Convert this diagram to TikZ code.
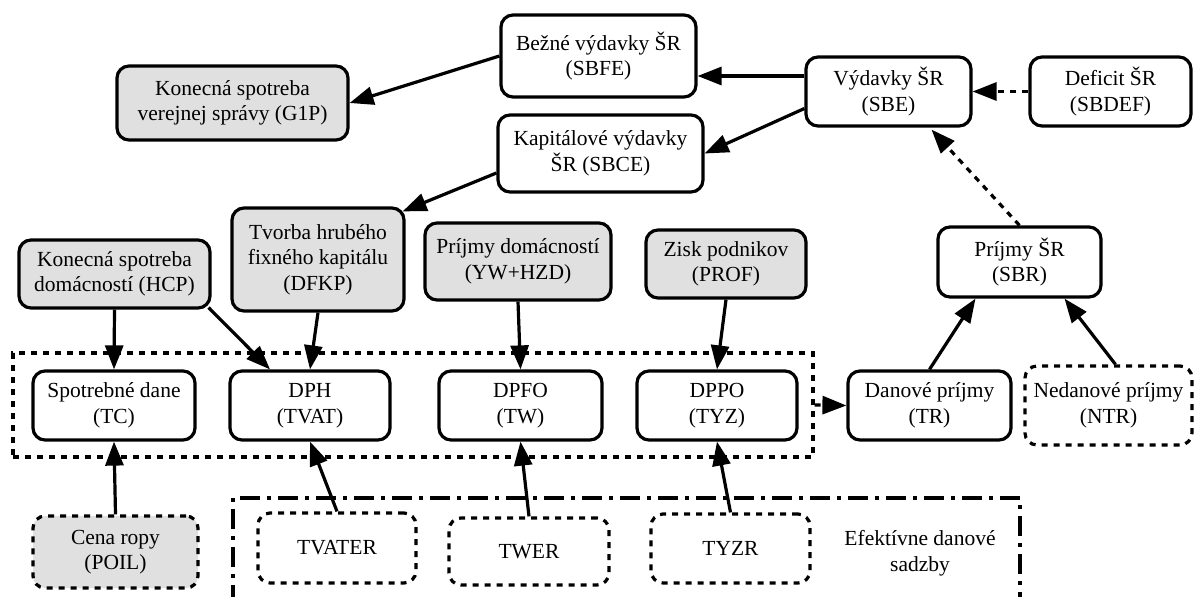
\documentclass[tikz,border=0pt]{standalone}
\usepackage{fontspec}
\setmainfont{Liberation Serif}
\usetikzlibrary{arrows.meta}
\definecolor{boxgray}{RGB}{224,224,224}
\begin{document}
\begin{tikzpicture}[x=1pt,y=-1pt,
  every node/.style={font=\fontsize{21.5}{25.5}\selectfont},
  box/.style={draw, line width=3.2pt, rounded corners=12pt, align=center, inner sep=0pt},
  sz/.style 2 args={minimum width=#1pt, minimum height=#2pt},
  shaded/.style={fill=boxgray},
  dotline/.style={dash pattern=on 6pt off 6pt},
  flow/.style={line width=3.2pt, -{Triangle[length=24pt,width=18pt]}},
]
\useasboundingbox (0,0) rectangle (1197,597);

% dotted group of the tax blocks
\node[draw, dotline, line width=3.2pt, sz={800}{104}] (taxes) at (413,405) {};

% state budget expenditures
\node[box, shaded, sz={231}{74}] (g1p) at (232.5,103) {Konecná spotreba\\verejnej správy (G1P)};
\node[box, sz={195}{82}] (sbfe) at (598.5,56) {Bežné výdavky ŠR\\(SBFE)};
\node[box, sz={205}{77}] (sbce) at (600.5,153.5) {Kapitálové výdavky\\ŠR (SBCE)};
\node[box, sz={165}{69}] (sbe) at (888.5,91.5) {Výdavky ŠR\\(SBE)};
\node[box, sz={161}{69}] (sbdef) at (1110.5,91.5) {Deficit ŠR\\(SBDEF)};

% macroeconomic drivers
\node[box, shaded, sz={191}{68}] (hcp) at (114.5,274) {Konecná spotreba\\domácností (HCP)};
\node[box, shaded, sz={172}{103}] (dfkp) at (318,259.5) {Tvorba hrubého\\fixného kapitálu\\(DFKP)};
\node[box, shaded, sz={186}{77}] (yw) at (518,261.5) {Príjmy domácností\\(YW+HZD)};
\node[box, shaded, sz={160}{68}] (prof) at (726,264) {Zisk podnikov\\(PROF)};
\node[box, sz={163}{70}] (sbr) at (1019.5,262) {Príjmy ŠR\\(SBR)};

% tax revenues
\node[box, sz={162}{69}] (tc) at (114,405.5) {Spotrebné dane\\(TC)};
\node[box, sz={160}{69}] (tvat) at (310,405.5) {DPH\\(TVAT)};
\node[box, sz={163}{69}] (tw) at (520.5,405.5) {DPFO\\(TW)};
\node[box, sz={160}{69}] (tyz) at (717,405.5) {DPPO\\(TYZ)};
\node[box, sz={163}{69}] (tr) at (929.5,405.5) {Danové príjmy\\(TR)};
\node[box, dotline, sz={167}{79}] (ntr) at (1108.5,405.5) {Nedanové príjmy\\(NTR)};

% exogenous inputs
\node[box, shaded, dotline, sz={165}{72}] (poil) at (115.5,552) {Cena ropy\\(POIL)};
\node[box, dotline, sz={158}{70}] (tvater) at (337,548) {TVATER};
\node[box, dotline, sz={160}{67}] (twer) at (529,551.5) {TWER};
\node[box, dotline, sz={159}{69}] (tyzr) at (730.5,548.5) {TYZR};
\node[align=center] (rates) at (920,553) {Efektívne danové\\sadzby};

% open dash-dot frame of the effective tax rates
\draw[line width=3.2pt, dash pattern=on 20pt off 7pt on 4pt off 7pt]
  (233,605) -- (233,498) -- (1020,498) -- (1020,605);

% connectors
\draw[flow] (sbfe.west) -- (g1p.east);
\draw[flow] ([yshift=15.5pt]sbe.west) -- ([yshift=-20pt]sbfe.east);
\draw[flow] ([yshift=-17pt]sbe.west) -- (sbce.east);
\draw[flow] ([yshift=-19.5pt]sbce.west) -- ([xshift=-3pt,yshift=-5pt]dfkp.north east);
\draw[flow, dotline] (sbdef.west) -- (sbe.east);
\draw[flow, dotline] (sbr.north) -- ([xshift=43pt,yshift=-2pt]sbe.south);

\draw[flow] (hcp.south) -- (tc.north);
\draw[flow] ([xshift=-3pt,yshift=2pt]hcp.south east) -- ([xshift=-40pt]tvat.north);
\draw[flow] (dfkp.south) -- (tvat.north);
\draw[flow] (yw.south) -- (tw.north);
\draw[flow] (prof.south) -- (tyz.north);

\draw[flow] (poil.north) -- (tc.south);
\draw[flow] (tvater.north) -- (tvat.south);
\draw[flow] (twer.north) -- (tw.south);
\draw[flow] (tyzr.north) -- (tyz.south);

\draw[flow, dotline] (taxes.east) -- (tr.west);
\draw[flow] (tr.north) -- ([xshift=-44pt]sbr.south);
\draw[flow] ([xshift=7pt]ntr.north) -- ([xshift=45pt]sbr.south);
\end{tikzpicture}
\end{document}
